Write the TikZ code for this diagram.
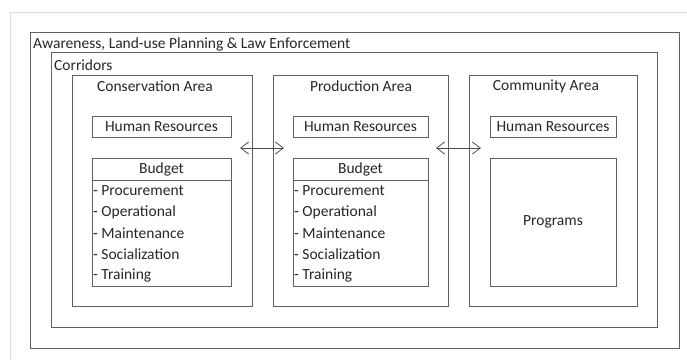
\documentclass[tikz,border=0pt]{standalone}
\usepackage{fontspec}
\setmainfont{Carlito}
\usetikzlibrary{arrows.meta}
\begin{document}
\begin{tikzpicture}[x=1pt,y=-1pt,
  box/.style={draw=black!62, line width=0.9pt, inner sep=0pt, outer sep=0pt},
  lbl/.style={font=\fontsize{15.5}{18}\selectfont, text=black!85, inner sep=0pt},
  dblarrow/.style={draw=black!70, line width=0.8pt, {Straight Barb[length=8pt,width=12pt]}-{Straight Barb[length=8pt,width=12pt]}}
]
\useasboundingbox (0,0) rectangle (687,360);
% light page frame
\coordinate (pf1) at (10,360);
\coordinate (pf2) at (10,12);
\coordinate (pf3) at (687,12);
\draw[black!13, line width=1pt] (pf1) -- (pf2) -- (pf3);

% nested frames
\node[box, minimum width=649pt, minimum height=316pt] (aware) at (354.5,190) {};
\node[box, minimum width=606pt, minimum height=275pt] (corr) at (354.5,189.5) {};
\node[lbl, anchor=west] (awaretxt) at (33,44) {Awareness, Land-use Planning \& Law Enforcement};
\node[lbl, anchor=west] (corrtxt) at (54,65) {Corridors};

% area boxes
\node[box, minimum width=180pt, minimum height=231pt] (cons) at (162,190.5) {};
\node[box, minimum width=175pt, minimum height=231pt] (prod) at (360.5,190.5) {};
\node[box, minimum width=168pt, minimum height=231pt] (comm) at (553,190.5) {};
\node[lbl] (constxt) at (155,86) {Conservation Area};
\node[lbl] (prodtxt) at (361,86) {Production Area};
\node[lbl] (commtxt) at (546,86) {Community Area};

% human resources
\node[box, minimum width=139pt, minimum height=21pt, lbl] (hr1) at (161.5,126.5) {Human Resources};
\node[box, minimum width=135pt, minimum height=21pt, lbl] (hr2) at (360.5,126.5) {Human Resources};
\node[box, minimum width=126pt, minimum height=21pt, lbl] (hr3) at (553,126.5) {Human Resources};

% budget boxes
\node[box, minimum width=139pt, minimum height=22pt, lbl] (bh1) at (161.5,169) {Budget};
\node[box, minimum width=139pt, minimum height=106pt, anchor=north] (bl1) at (bh1.south) {};
\node[box, minimum width=135pt, minimum height=22pt, lbl] (bh2) at (360.5,169) {Budget};
\node[box, minimum width=135pt, minimum height=106pt, anchor=north] (bl2) at (bh2.south) {};

\foreach \b/\x in {1/93, 2/294}{
  \node[lbl, anchor=west] (p\b) at (\x,191) {- Procurement};
  \node[lbl, anchor=west] (o\b) at (\x,212) {- Operational};
  \node[lbl, anchor=west] (m\b) at (\x,233) {- Maintenance};
  \node[lbl, anchor=west] (s\b) at (\x,254) {- Socialization};
  \node[lbl, anchor=west] (t\b) at (\x,275) {- Training};
}

% programs
\node[box, minimum width=126pt, minimum height=128pt, lbl] (prog) at (553,222) {Programs};

% arrows
\coordinate (a1l) at (240,148);
\coordinate (a1r) at (284,148);
\coordinate (a2l) at (436,148);
\coordinate (a2r) at (481,148);
\draw[dblarrow] (a1l) -- (a1r);
\draw[dblarrow] (a2l) -- (a2r);
\end{tikzpicture}
\end{document}
